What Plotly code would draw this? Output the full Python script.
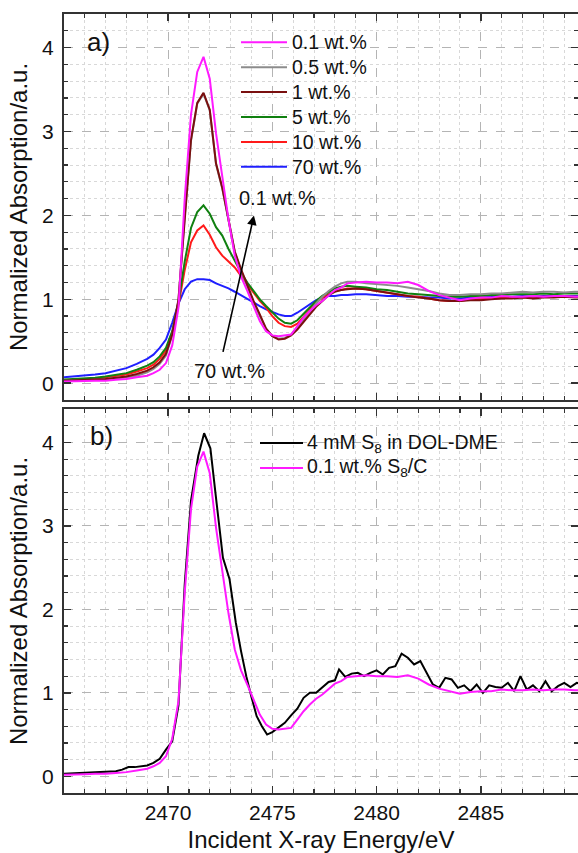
import plotly.graph_objects as go

# ---------------- data ----------------
energy_a = [
    2465.0, 2465.5, 2466.0, 2466.5, 2467.0, 2467.5, 2468.0, 2468.5,
    2469.0, 2469.3, 2469.6, 2469.9, 2470.2, 2470.5, 2470.8, 2471.1,
    2471.4, 2471.7, 2472.0, 2472.3, 2472.6, 2472.9, 2473.2, 2473.5,
    2473.8, 2474.1, 2474.4, 2474.7, 2475.0, 2475.3, 2475.6, 2475.9,
    2476.2, 2476.5, 2476.8, 2477.1, 2477.4, 2477.7, 2478.0, 2478.3,
    2478.6, 2479.0, 2479.5, 2480.0, 2480.5, 2481.0, 2481.5, 2482.0,
    2482.5, 2483.0, 2483.5, 2484.0, 2484.5, 2485.0, 2485.5, 2486.0,
    2486.5, 2487.0, 2487.5, 2488.0, 2488.5, 2489.0, 2489.5, 2490.0]

wt_0p1 = [
    0.02, 0.02, 0.025, 0.03, 0.03, 0.04, 0.05, 0.07,
    0.09, 0.12, 0.16, 0.24, 0.45, 0.90, 2.2, 3.2,
    3.71, 3.89, 3.63, 2.98, 2.45, 1.95, 1.52, 1.27,
    1.10, 0.92, 0.74, 0.62, 0.57, 0.56, 0.57, 0.58,
    0.68, 0.78, 0.86, 0.93, 0.98, 1.05, 1.11, 1.14,
    1.19, 1.20, 1.21, 1.20, 1.20, 1.19, 1.21, 1.17,
    1.10, 1.05, 1.02, 0.99, 1.01, 1.02, 1.02, 1.04,
    1.03, 1.03, 1.04, 1.03, 1.04, 1.04, 1.03, 1.03]

wt_0p5 = [
    0.03, 0.03, 0.035, 0.04, 0.045, 0.055, 0.07, 0.09,
    0.13, 0.17, 0.23, 0.33, 0.57, 0.99, 1.99, 2.89,
    3.33, 3.45, 3.25, 2.61, 2.32, 1.94, 1.56, 1.34,
    1.14, 0.96, 0.80, 0.65, 0.56, 0.53, 0.54, 0.58,
    0.66, 0.76, 0.86, 0.95, 1.03, 1.10, 1.15, 1.19,
    1.21, 1.21, 1.19, 1.18, 1.17, 1.16, 1.14, 1.12,
    1.10, 1.07, 1.05, 1.05, 1.06, 1.06, 1.07, 1.07,
    1.08, 1.09, 1.08, 1.09, 1.09, 1.08, 1.09, 1.09]

wt_1 = [
    0.03, 0.035, 0.04, 0.045, 0.05, 0.065, 0.08, 0.11,
    0.15, 0.19, 0.25, 0.35, 0.58, 1.0, 2.0, 2.9,
    3.34, 3.46, 3.26, 2.62, 2.33, 1.95, 1.57, 1.36,
    1.16, 0.98, 0.82, 0.65, 0.56, 0.52, 0.53, 0.57,
    0.64, 0.73, 0.82, 0.91, 0.98, 1.05, 1.09, 1.11,
    1.12, 1.13, 1.12, 1.10, 1.08, 1.06, 1.04, 1.02,
    1.01, 0.99, 0.98, 0.98, 0.99, 0.99, 1.00, 1.01,
    1.01, 1.02, 1.01, 1.02, 1.02, 1.03, 1.02, 1.02]

wt_5 = [
    0.045, 0.05, 0.055, 0.065, 0.08, 0.10, 0.12, 0.16,
    0.21, 0.25, 0.32, 0.42, 0.62, 0.97, 1.45, 1.85,
    2.04, 2.12, 2.02, 1.86, 1.76, 1.60, 1.45, 1.32,
    1.20, 1.10, 1.00, 0.92, 0.84, 0.77, 0.72, 0.71,
    0.75, 0.83, 0.91, 0.98, 1.04, 1.09, 1.13, 1.15,
    1.16, 1.15, 1.14, 1.12, 1.11, 1.09, 1.07, 1.06,
    1.05, 1.04, 1.03, 1.03, 1.04, 1.04, 1.05, 1.05,
    1.06, 1.06, 1.06, 1.07, 1.06, 1.07, 1.07, 1.07]

wt_10 = [
    0.035, 0.04, 0.045, 0.055, 0.07, 0.085, 0.105, 0.14,
    0.18, 0.22, 0.29, 0.39, 0.58, 0.93, 1.35, 1.68,
    1.82, 1.88, 1.77, 1.62, 1.52, 1.45, 1.38, 1.28,
    1.18, 1.08, 0.98, 0.90, 0.80, 0.72, 0.68, 0.67,
    0.71, 0.79, 0.87, 0.96, 1.02, 1.06, 1.10, 1.11,
    1.13, 1.13, 1.12, 1.10, 1.08, 1.06, 1.04, 1.03,
    1.01, 0.99, 0.98, 0.98, 1.00, 1.00, 1.01, 1.02,
    1.02, 1.02, 1.03, 1.03, 1.03, 1.03, 1.03, 1.03]

wt_70 = [
    0.07, 0.08, 0.09, 0.105, 0.12, 0.15, 0.18, 0.23,
    0.29, 0.34, 0.42, 0.52, 0.72, 0.95, 1.12, 1.21,
    1.24, 1.24, 1.23, 1.19, 1.16, 1.13, 1.09, 1.05,
    1.01, 0.97, 0.92, 0.88, 0.85, 0.82, 0.80, 0.80,
    0.84, 0.89, 0.94, 0.99, 1.02, 1.04, 1.04, 1.05,
    1.05, 1.06, 1.06, 1.05, 1.04, 1.04, 1.03, 1.03,
    1.02, 1.02, 1.01, 1.01, 1.02, 1.02, 1.03, 1.03,
    1.03, 1.04, 1.03, 1.04, 1.04, 1.04, 1.04, 1.04]

energy_b = [
    2465.0, 2465.5, 2466.0, 2466.5, 2467.0, 2467.5, 2467.8, 2468.1, 2468.4, 2468.7,
    2469.0, 2469.3, 2469.6, 2469.9, 2470.2, 2470.5, 2470.8, 2471.1, 2471.45, 2471.73,
    2472.03, 2472.33, 2472.63, 2472.95, 2473.25, 2473.5, 2473.75, 2474.0, 2474.25, 2474.5,
    2474.75, 2475.0, 2475.3, 2475.6, 2475.9, 2476.2, 2476.5, 2476.8, 2477.1, 2477.4,
    2477.7, 2478.0, 2478.2, 2478.5, 2478.8, 2479.1, 2479.4, 2479.7, 2480.0, 2480.3,
    2480.6, 2480.9, 2481.2, 2481.5, 2481.8, 2482.1, 2482.4, 2482.7, 2483.0, 2483.3,
    2483.6, 2483.9, 2484.2, 2484.5, 2484.8, 2485.1, 2485.4, 2485.7, 2486.0, 2486.3,
    2486.6, 2486.9, 2487.2, 2487.5, 2487.8, 2488.1, 2488.4, 2488.7, 2489.0, 2489.3,
    2489.6, 2489.9]

s8_dol_dme = [
    0.03, 0.035, 0.04, 0.05, 0.055, 0.06, 0.08, 0.11, 0.11, 0.12,
    0.13, 0.16, 0.21, 0.32, 0.42, 0.85, 2.3, 3.3, 3.84, 4.11,
    3.93, 3.27, 2.62, 2.36, 1.84, 1.5, 1.2, 0.95, 0.72, 0.60,
    0.50, 0.53, 0.58, 0.64, 0.73, 0.81, 0.94, 1.00, 1.00, 1.06,
    1.13, 1.15, 1.28, 1.19, 1.23, 1.24, 1.20, 1.24, 1.27, 1.22,
    1.30, 1.32, 1.47, 1.42, 1.34, 1.38, 1.24, 1.10, 1.06, 1.18,
    1.16, 1.06, 1.09, 1.02, 1.10, 1.00, 1.09, 1.07, 1.06, 1.12,
    1.02, 1.20, 1.04, 1.09, 1.02, 1.14, 1.02, 1.08, 1.12, 1.07,
    1.12, 1.10]

labels_a = ["0.1 wt.%", "0.5 wt.%", "1 wt.%", "5 wt.%", "10 wt.%", "70 wt.%"]
values_a = [wt_0p1, wt_0p5, wt_1, wt_5, wt_10, wt_70]
colors_a = ["#ff1aff", "#8c8c8c", "#7a0f0f", "#108010", "#ff1a1a", "#1f1fff"]
draw_order_a = [5, 4, 3, 1, 2, 0]   # index into the lists above, bottom-most first

labels_b = ["4 mM S<sub>8</sub> in DOL-DME", "0.1 wt.% S<sub>8</sub>/C"]
colors_b = ["#000000", "#ff1aff"]

FONT = "Liberation Sans, Arial, sans-serif"
W, H = 578, 853
ML, MR, MT, MB = 64, 0, 14, 60


def px_x(px):
    return (px - ML) / (W - ML - MR)


def px_y(py):
    return (H - MB - py) / (H - MT - MB)


fig = go.Figure()
for i in draw_order_a:
    fig.add_trace(go.Scatter(x=energy_a, y=values_a[i], mode="lines", name=labels_a[i],
                             line=dict(color=colors_a[i], width=2), showlegend=False,
                             xaxis="x", yaxis="y"))

fig.add_trace(go.Scatter(x=energy_b, y=s8_dol_dme, mode="lines", name=labels_b[0],
                         line=dict(color=colors_b[0], width=2), showlegend=False,
                         xaxis="x2", yaxis="y2"))
fig.add_trace(go.Scatter(x=energy_a, y=wt_0p1, mode="lines", name=labels_b[1],
                         line=dict(color=colors_b[1], width=2), showlegend=False,
                         xaxis="x2", yaxis="y2"))

grid_major = dict(showgrid=True, gridcolor="#b4b4b4", griddash="dash", gridwidth=1)
minor_x = dict(dtick=1, tick0=2465, ticks="inside", ticklen=4, tickwidth=1.2,
               tickcolor="#333", showgrid=True, gridcolor="#d8d8d8", griddash="dot", gridwidth=1)
minor_y = dict(dtick=0.2, ticks="inside", ticklen=4, tickwidth=1.2,
               tickcolor="#333", showgrid=True, gridcolor="#d8d8d8", griddash="dot", gridwidth=1)
common_axis = dict(showline=True, linecolor="#333", linewidth=2, ticks="inside",
                   ticklen=7, tickwidth=1.5, tickcolor="#333", mirror="ticks",
                   zeroline=False, automargin=False,
                   tickfont=dict(size=21, color="#111", family=FONT))

xrange = [2465.01, 2489.66]
yrange = [-0.2, 4.4]
ytitle = dict(text="Normalized Absorption/a.u.", standoff=8,
              font=dict(size=24, family=FONT, color="#111"))

fig.update_layout(
    width=W, height=H,
    margin=dict(l=ML, r=MR, t=MT, b=MB),
    paper_bgcolor="white", plot_bgcolor="white",
    font=dict(family=FONT, color="#111"),
    showlegend=False,
    xaxis=dict(domain=[0, 1], anchor="y", range=xrange, dtick=5, tick0=2465,
               showticklabels=False, minor=minor_x, **grid_major, **common_axis),
    yaxis=dict(domain=[0.5045, 1], anchor="x", range=yrange, dtick=1, tick0=0,
               ticklabelstandoff=4, minor=minor_y, title=ytitle,
               **grid_major, **common_axis),
    xaxis2=dict(domain=[0, 1], anchor="y2", range=xrange, dtick=5, tick0=2465,
                matches="x", minor=minor_x, **grid_major, **common_axis,
                title=dict(text="Incident X-ray Energy/eV", standoff=11,
                           font=dict(size=24, family=FONT, color="#111"))),
    yaxis2=dict(domain=[0, 0.4929], anchor="x2", range=yrange, dtick=1, tick0=0,
                ticklabelstandoff=4, minor=minor_y, title=ytitle,
                **grid_major, **common_axis),
)

annos = [
    dict(x=2466.67, y=4.07, xref="x", yref="y", text="a)", showarrow=False,
         font=dict(size=26, family=FONT, color="#111")),
    dict(x=2466.8, y=4.08, xref="x2", yref="y2", text="b)", showarrow=False,
         font=dict(size=26, family=FONT, color="#111")),
    dict(x=2474.12, y=2.0, xref="x", yref="y", ax=2472.62, ay=0.355,
         axref="x", ayref="y", text="", showarrow=True, arrowhead=2,
         arrowsize=1.2, arrowwidth=1.6, arrowcolor="#000"),
    dict(x=2475.27, y=2.205, xref="x", yref="y", text="0.1 wt.%", showarrow=False,
         font=dict(size=20, family=FONT, color="#111")),
    dict(x=2472.93, y=0.15, xref="x", yref="y", text="70 wt.%", showarrow=False,
         font=dict(size=20, family=FONT, color="#111")),
]

shapes = []
# legend of panel a)
rows_a = [42.3, 67.2, 92.1, 117.0, 141.9, 166.8]
for lab, col, py in zip(labels_a, colors_a, rows_a):
    shapes.append(dict(type="line", xref="paper", yref="paper",
                       x0=px_x(241), x1=px_x(287), y0=px_y(py), y1=px_y(py),
                       line=dict(color=col, width=2)))
    annos.append(dict(x=px_x(290), y=px_y(py), xref="paper", yref="paper",
                      xanchor="left", yanchor="middle", text=lab, showarrow=False,
                      font=dict(size=19.5, family=FONT, color="#111")))
# legend of panel b)
rows_b = [443.0, 468.0]
for lab, col, py in zip(labels_b, colors_b, rows_b):
    shapes.append(dict(type="line", xref="paper", yref="paper",
                       x0=px_x(260), x1=px_x(303), y0=px_y(py), y1=px_y(py),
                       line=dict(color=col, width=2)))
    annos.append(dict(x=px_x(305), y=px_y(py), xref="paper", yref="paper",
                      xanchor="left", yanchor="middle", text=lab, showarrow=False,
                      font=dict(size=19.5, family=FONT, color="#111")))

fig.update_layout(annotations=annos, shapes=shapes)

fig.write_html("out.html",
               config={"displayModeBar": False, "staticPlot": True},
               post_script="document.body.style.margin='0px';document.body.style.overflow='hidden';")
